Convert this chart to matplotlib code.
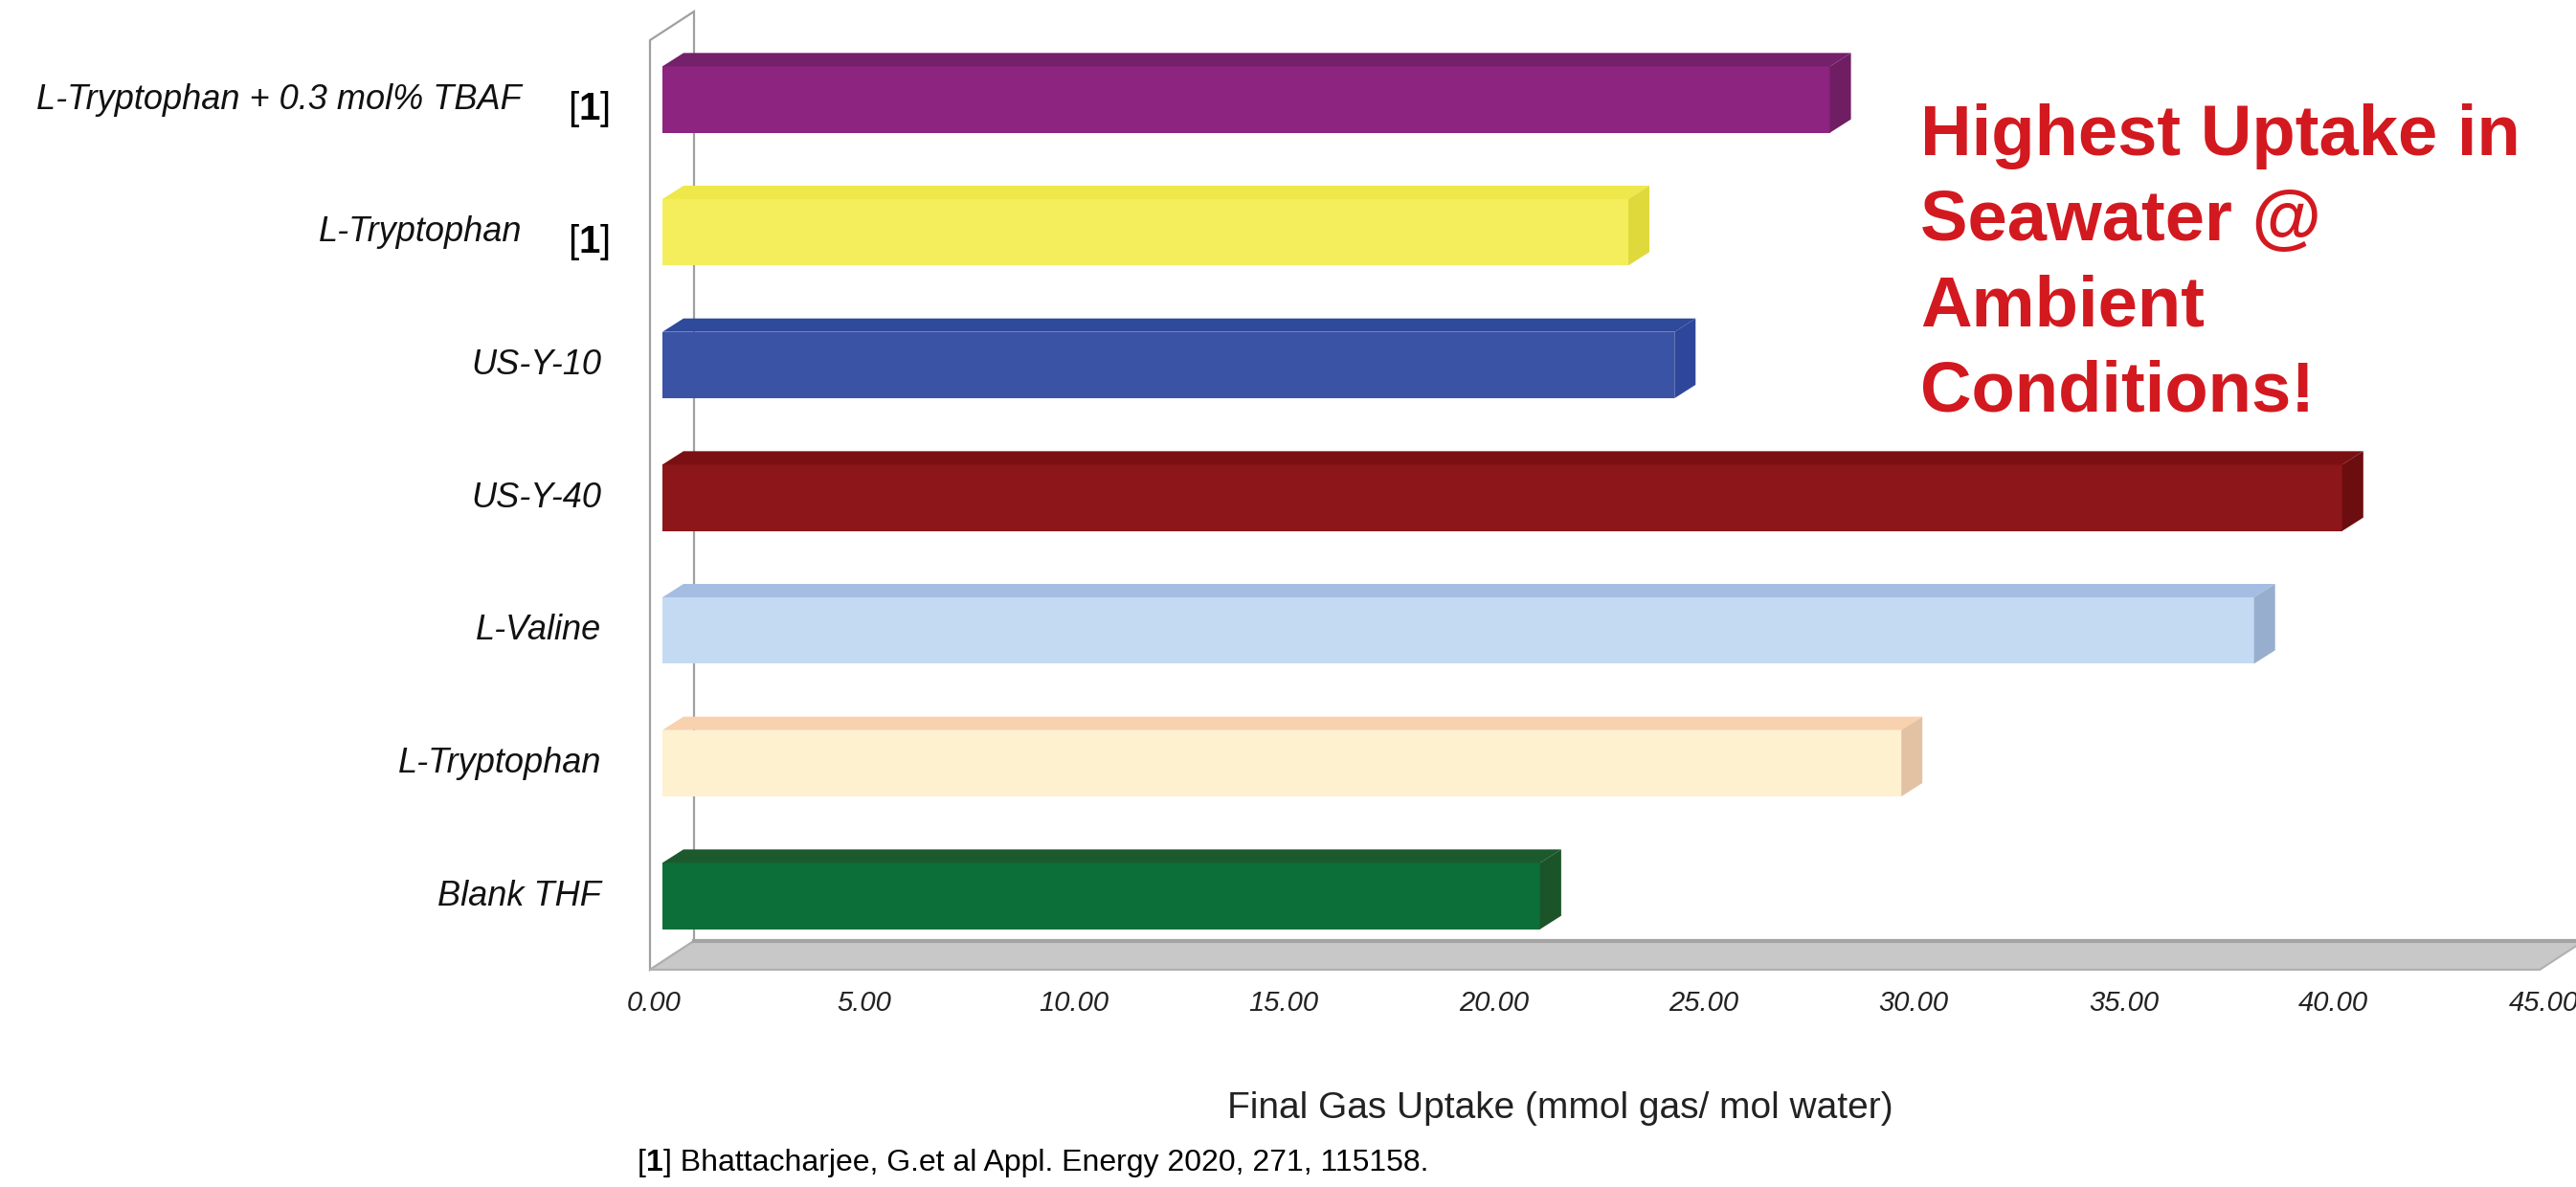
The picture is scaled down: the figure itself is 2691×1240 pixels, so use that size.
import numpy as np
import matplotlib.pyplot as plt
from matplotlib.patches import Polygon

labels = ['L-Tryptophan + 0.3 mol% TBAF', 'L-Tryptophan', 'US-Y-10', 'US-Y-40',
          'L-Valine', 'L-Tryptophan', 'Blank THF']
cited = [True, True, False, False, False, False, False]
uptake = [27.8, 23.0, 24.1, 40.0, 37.9, 29.5, 20.9]
front = ['#8d2480', '#f5ee5c', '#3a53a5', '#8c161a', '#c4daf2', '#fef1d0', '#0c6e38']
top = ['#74206a', '#efe84a', '#2f4a9a', '#7a1012', '#a5bde2', '#f8d1af', '#1c5a2e']
side = ['#6f1e63', '#e0d93c', '#2f479a', '#6c0d0f', '#98aecf', '#e3c2a3', '#1b5428']
ticks = np.arange(0, 50, 5)
note = ['Highest Uptake in', 'Seawater @', 'Ambient', 'Conditions!']
ref_text = ' Bhattacharjee, G.et al Appl. Energy 2020, 271, 115158.'

W, H = 2691, 1240
px_u, x0 = 43.87, 692     # pixels per unit of uptake, pixel of zero
py_i, y0 = 138.67, 104    # pixels per category, pixel of first bar

reg = ['Liberation Sans', 'DejaVu Sans']

fig = plt.figure(figsize=(W / 100, H / 100), dpi=100)
ax = fig.add_axes([0, 0, 1, 1])
ax.set_xlim(-x0 / px_u, (W - x0) / px_u)
ax.set_ylim((H - y0) / py_i, -y0 / py_i)
ax.axis('off')

y = np.arange(len(labels))
bh = 0.5
dx, dy = 22 / px_u, 14 / py_i

# walls and floor
wx0 = -13 / px_u
wdx, wdy = 46 / px_u, 30 / py_i
ff = (1013 - y0) / py_i
wtop = (42 - y0) / py_i
ax.add_patch(Polygon([(wx0, ff), (wx0, wtop), (wx0 + wdx, wtop - wdy), (wx0 + wdx, ff - wdy)],
                     facecolor='white', edgecolor='#a0a0a0', lw=1.6, zorder=1))
ax.add_patch(Polygon([(wx0, ff), (wx0 + wdx, ff - wdy), (wx0 + wdx + 45, ff - wdy), (wx0 + 45, ff)],
                     facecolor='#c8c8c8', edgecolor='#b0b0b0', lw=1.5, zorder=2))
ax.plot([wx0 + wdx, wx0 + wdx + 45], [ff - wdy, ff - wdy], color='#a4a4a4', lw=3, zorder=2)

# bars
ax.barh(y, uptake, height=bh, color=front, zorder=3)
for i, v in enumerate(uptake):
    yt = y[i] - bh / 2
    ax.add_patch(Polygon([(0, yt), (dx, yt - dy), (v + dx, yt - dy), (v, yt)],
                         facecolor=top[i], edgecolor='none', zorder=3))
    ax.add_patch(Polygon([(v, yt), (v + dx, yt - dy), (v + dx, yt + bh - dy), (v, yt + bh)],
                         facecolor=side[i], edgecolor='none', zorder=3))

# tick labels
ty = (1048 - y0) / py_i
for t in ticks:
    ax.text(t - 9 / px_u, ty, f'{t:.2f}', ha='center', va='center', fontsize=21,
            style='italic', family=reg, color='#222222')

# category labels
for i, lab in enumerate(labels):
    if cited[i]:
        ax.text(-147 / px_u, y[i], lab, ha='right', va='center', fontsize=26,
                style='italic', family=reg, color='#111111')
        b = ax.text(-99 / px_u, y[i] + 10 / py_i, '[', ha='left', va='center',
                    fontsize=29, family=reg, color='black')
        n = ax.annotate('1', xy=(1, 0), xycoords=b, ha='left', va='bottom',
                        fontsize=29, family=reg, fontweight='bold', color='black')
        ax.annotate(']', xy=(1, 0), xycoords=n, ha='left', va='bottom',
                    fontsize=29, family=reg, color='black')
    else:
        ax.text(-64 / px_u, y[i], lab, ha='right', va='center', fontsize=26,
                style='italic', family=reg, color='#111111')

# axis title
ax.text((1630 - x0) / px_u, (1158 - y0) / py_i, 'Final Gas Uptake (mmol gas/ mol water)',
        ha='center', va='center', fontsize=28, family=reg, color='#222222')

# reference line
b = ax.text((666 - x0) / px_u, (1215 - y0) / py_i, '[', ha='left', va='center',
            fontsize=23, family=reg, color='black')
n = ax.annotate('1', xy=(1, 0), xycoords=b, ha='left', va='bottom',
                fontsize=23, family=reg, fontweight='bold', color='black')
ax.annotate(']' + ref_text, xy=(1, 0), xycoords=n, ha='left', va='bottom',
            fontsize=23, family=reg, color='black')

# red note
for k, line in enumerate(note):
    ax.text((2006 - x0) / px_u, (162 + 89.3 * k - y0) / py_i, line, ha='left', va='baseline',
            fontsize=53.5, fontweight='bold', family=reg, color='#d2191f')

fig.savefig('out.png', dpi=100)
